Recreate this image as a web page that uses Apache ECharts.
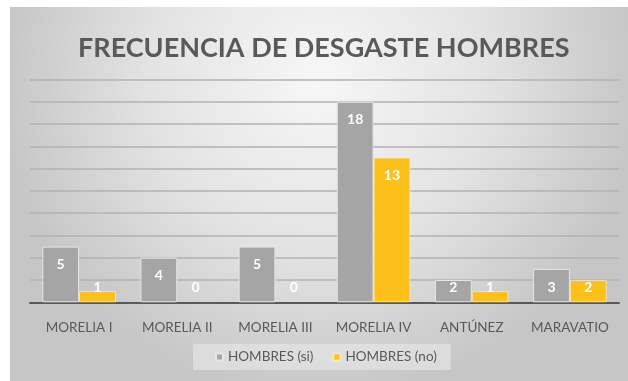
<!DOCTYPE html>
<html>
<head>
<meta charset="utf-8">
<script src="https://cdn.jsdelivr.net/npm/echarts@6/dist/echarts.min.js"></script>
<style>
  html, body { margin: 0; padding: 0; background: #ffffff; }
  #chart { width: 628px; height: 381px; }
</style>
</head>
<body>
<div id="chart"></div>
<script>
// Categories and counts per location
const categories = ['MORELIA I', 'MORELIA II', 'MORELIA III', 'MORELIA IV', 'ANTÚNEZ', 'MARAVATIO'];
const hombresSi = [5, 4, 5, 18, 2, 3];
const hombresNo = [1, 0, 0, 13, 1, 2];
const seriesNames = ['HOMBRES (si)', 'HOMBRES (no)'];
const chartTitle = 'FRECUENCIA DE DESGASTE HOMBRES';

const FONT = 'Lato, "Open Sans", sans-serif';
const TEXT = '#595959';

// Labels sit inside the bar top; short bars keep them just above the baseline.
// Empty bars get no outline so nothing shows on the axis.
function withLabels(values) {
  return values.map(v => ({
    value: v,
    itemStyle: v === 0 ? { borderWidth: 0 } : {},
    label: v <= 3
      ? { position: 'insideBottom', distance: 8 }
      : { position: 'insideTop', distance: 11 }
  }));
}

const barLabel = {
  show: true,
  color: '#ffffff',
  fontFamily: FONT,
  fontWeight: 'bold',
  fontSize: 14
};

const chart = echarts.init(document.getElementById('chart'), null, { renderer: 'canvas' });

chart.setOption({
  backgroundColor: '#ffffff',
  animation: false,
  graphic: [{
    type: 'rect',
    z: -10,
    silent: true,
    shape: { x: 10, y: 7, width: 618, height: 374 },
    style: {
      fill: {
        type: 'radial', x: 0.5, y: 0.2, r: 0.85,
        colorStops: [
          { offset: 0, color: '#f7f7f7' },
          { offset: 0.55, color: '#e2e2e2' },
          { offset: 1, color: '#c6c6c6' }
        ]
      }
    }
  }],
  title: {
    text: chartTitle,
    left: 73,
    top: 30,
    textStyle: {
      fontFamily: FONT,
      fontWeight: 'bold',
      fontSize: 27,
      color: TEXT
    }
  },
  legend: {
    data: seriesNames,
    left: 193,
    top: 344,
    icon: 'rect',
    itemWidth: 7,
    itemHeight: 7,
    itemGap: 19,
    backgroundColor: 'rgba(235,235,235,0.55)',
    padding: [6, 14, 6, 22],
    textStyle: { fontFamily: FONT, fontSize: 13.5, color: TEXT }
  },
  grid: { left: 30, right: 9, top: 79.5, bottom: 78.7 },
  xAxis: {
    type: 'category',
    data: categories,
    axisTick: { show: false },
    axisLine: { lineStyle: { color: '#595959', width: 2 } },
    axisLabel: { interval: 0, fontFamily: FONT, fontSize: 13.5, color: TEXT, margin: 18 }
  },
  yAxis: {
    type: 'value',
    min: 0,
    max: 20,
    interval: 2,
    axisLabel: { show: false },
    axisLine: { show: false },
    axisTick: { show: false },
    splitLine: { lineStyle: { color: '#b2b2b2', width: 1.5 } }
  },
  series: [
    {
      name: seriesNames[0],
      type: 'bar',
      barGap: '0%',
      barCategoryGap: '25%',
      itemStyle: { color: '#a5a5a5', borderColor: '#e6e6e6', borderWidth: 1 },
      label: barLabel,
      data: withLabels(hombresSi)
    },
    {
      name: seriesNames[1],
      type: 'bar',
      itemStyle: { color: '#fbc01a', borderColor: 'rgba(255,240,200,0.7)', borderWidth: 1 },
      label: barLabel,
      data: withLabels(hombresNo)
    }
  ]
});
</script>
</body>
</html>
